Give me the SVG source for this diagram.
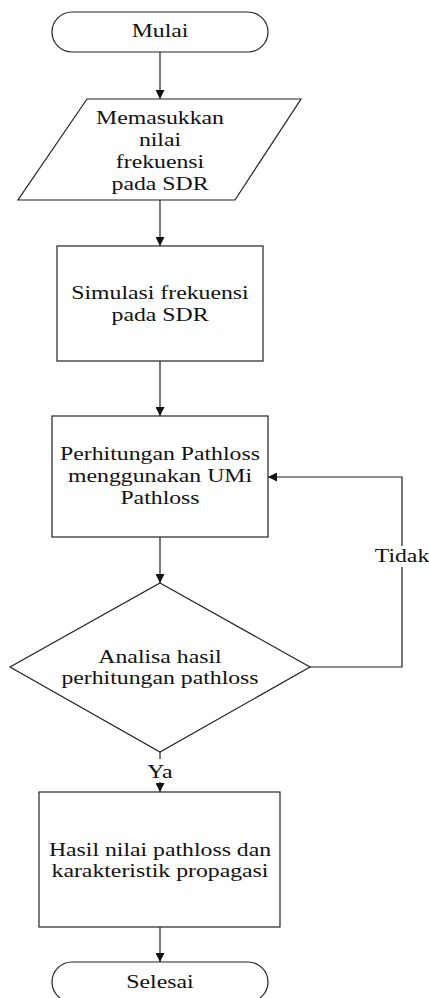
<svg xmlns="http://www.w3.org/2000/svg" width="429" height="998" viewBox="0 0 429 998">
<style>
.s{fill:#fff;stroke:#222;stroke-width:1.2}
.c{fill:none;stroke:#222;stroke-width:1.2}
.t{font-family:"Liberation Serif","Times New Roman",serif;font-size:19px;fill:#111;text-anchor:middle}
</style>
<defs>
<marker id="ah" markerWidth="9" markerHeight="9" refX="9" refY="4.5" orient="auto" markerUnits="userSpaceOnUse">
<path d="M0,0 L9,4.5 L0,9 Z" fill="#111"/>
</marker>
</defs>
<rect width="429" height="998" fill="#fff"/>
<g id="connectors">
<line class="c" x1="160" y1="52" x2="160" y2="99" marker-end="url(#ah)"/>
<line class="c" x1="160" y1="200" x2="160" y2="246" marker-end="url(#ah)"/>
<line class="c" x1="160" y1="361" x2="160" y2="416" marker-end="url(#ah)"/>
<line class="c" x1="160" y1="537" x2="160" y2="583" marker-end="url(#ah)"/>
<line class="c" x1="160" y1="752" x2="160" y2="792" marker-end="url(#ah)"/>
<line class="c" x1="160" y1="927" x2="160" y2="962" marker-end="url(#ah)"/>
<polyline class="c" points="310,667 402,667 402,477 268,477" marker-end="url(#ah)"/>
<rect x="376" y="546" width="53" height="21" fill="#fff"/>
<text class="t" transform="matrix(1.25 0 0 1 402 562)">Tidak</text>
<rect x="146" y="759" width="28" height="23" fill="#fff"/>
<text class="t" transform="matrix(1.25 0 0 1 160 778)">Ya</text>
</g>
<g id="mulai">
<rect class="s" x="52" y="12" width="216" height="40" rx="20"/>
<text class="t" transform="matrix(1.25 0 0 1 160 37)">Mulai</text>
</g>
<g id="input">
<polygon class="s" points="87,99 301,99 235,200 18,200"/>
<text class="t" transform="matrix(1.25 0 0 1 160 124)">Memasukkan</text>
<text class="t" transform="matrix(1.25 0 0 1 160 146)">nilai</text>
<text class="t" transform="matrix(1.25 0 0 1 160 168)">frekuensi</text>
<text class="t" transform="matrix(1.25 0 0 1 160 190)">pada SDR</text>
</g>
<g id="simulasi">
<rect class="s" x="57" y="246" width="206" height="115"/>
<text class="t" transform="matrix(1.25 0 0 1 160 299)">Simulasi frekuensi</text>
<text class="t" transform="matrix(1.25 0 0 1 160 321)">pada SDR</text>
</g>
<g id="perhitungan">
<rect class="s" x="52" y="416" width="216" height="121"/>
<text class="t" transform="matrix(1.25 0 0 1 160 460)">Perhitungan Pathloss</text>
<text class="t" transform="matrix(1.25 0 0 1 160 482)">menggunakan UMi</text>
<text class="t" transform="matrix(1.25 0 0 1 160 504)">Pathloss</text>
</g>
<g id="analisa">
<polygon class="s" points="160,583 310,667 160,752 10,667"/>
<text class="t" transform="matrix(1.25 0 0 1 160 663)">Analisa hasil</text>
<text class="t" transform="matrix(1.25 0 0 1 160 684)">perhitungan pathloss</text>
</g>
<g id="hasil">
<rect class="s" x="39" y="792" width="241" height="135"/>
<text class="t" transform="matrix(1.25 0 0 1 160 856)">Hasil nilai pathloss dan</text>
<text class="t" transform="matrix(1.25 0 0 1 160 877)">karakteristik propagasi</text>
</g>
<g id="selesai">
<rect class="s" x="52" y="962" width="216" height="40" rx="20"/>
<text class="t" transform="matrix(1.25 0 0 1 160 988)">Selesai</text>
</g>
</svg>
